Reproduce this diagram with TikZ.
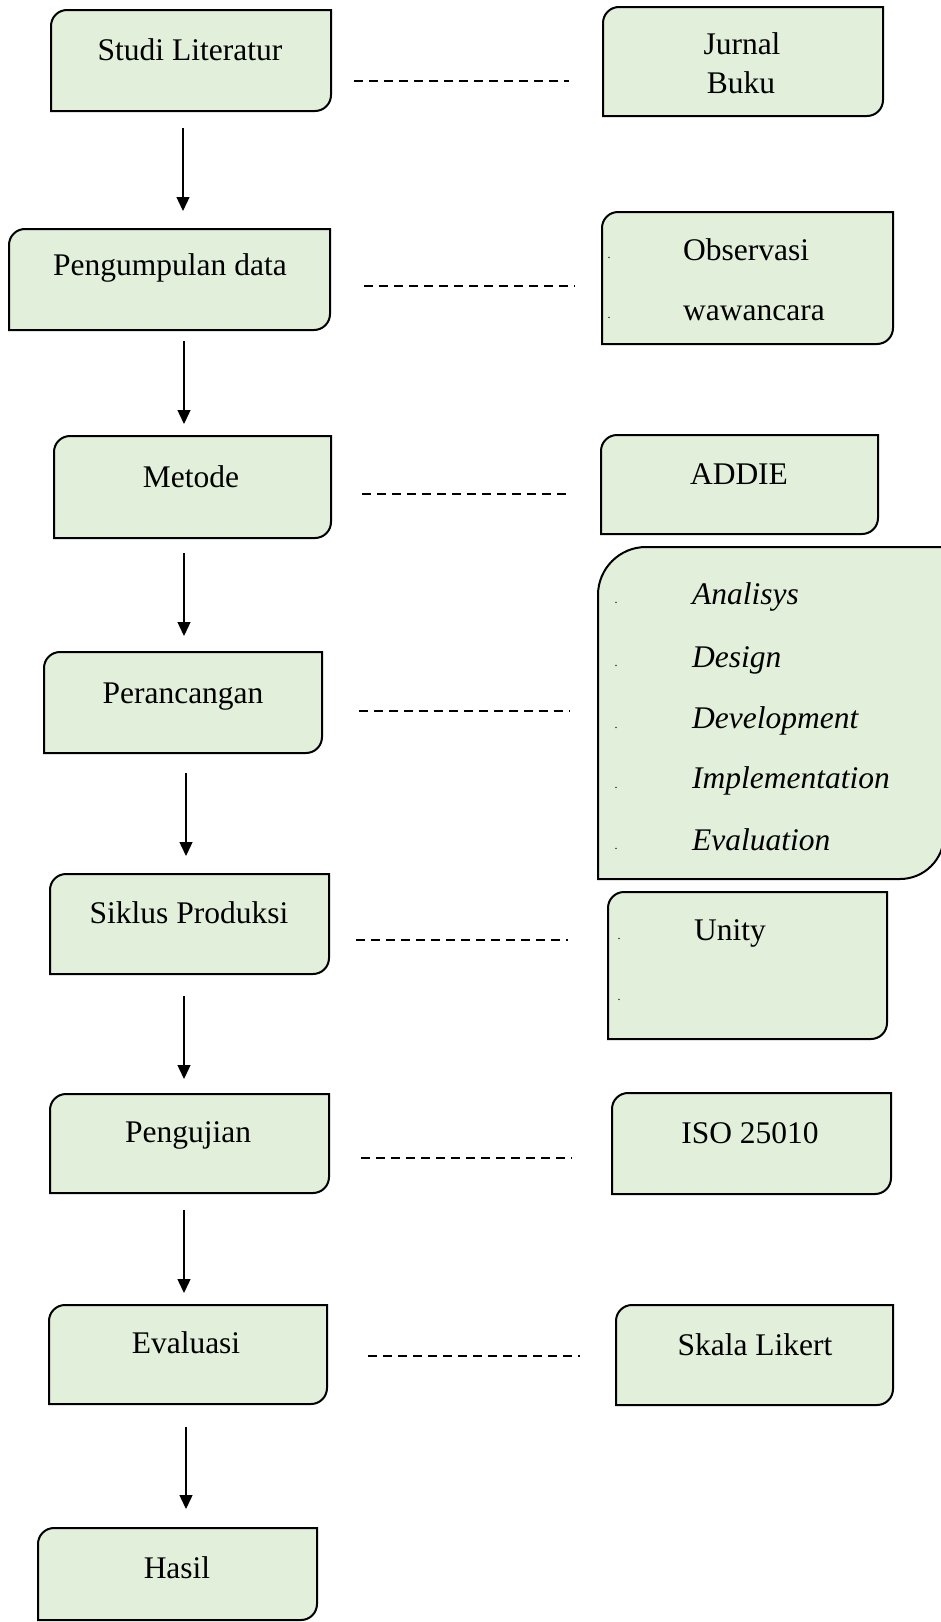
\documentclass[tikz,border=0pt]{standalone}
\usepackage{fontspec}
\setmainfont{Liberation Serif}
\usetikzlibrary{arrows.meta}
\definecolor{panelgreen}{HTML}{E2EFDA}
\tikzset{
  panelline/.style={draw=black, line width=2pt, fill=panelgreen},
  frame/.style={inner sep=0pt, outer sep=0pt, draw=none},
  lbl/.style={inner sep=0pt, anchor=base, font=\fontsize{31.5}{38}\selectfont},
  lblw/.style={lbl, anchor=base west},
  ilbl/.style={lblw, font=\fontsize{31.5}{38}\selectfont\itshape},
  tick/.style={inner sep=0pt, anchor=base, font=\fontsize{12}{14}\selectfont},
  flow/.style={line width=1.4pt, -{Triangle[width=13pt,length=14pt]}},
  link/.style={line width=1.5pt, dash pattern=on 9pt off 6pt},
}
% #1 name, #2 x1, #3 y1, #4 x2, #5 y2, #6 top-left radius, #7 bottom-right radius
\newcommand{\panel}[7]{%
  \node[frame, minimum width={#4pt-#2pt}, minimum height={#5pt-#3pt}] (#1) at ({(#2+#4)/2},{(#3+#5)/2}) {};
  \draw[panelline] (#1.south west) -- ([yshift=-#6pt]#1.north west)
    arc[start angle=180, end angle=90, radius=#6pt] -- (#1.north east)
    -- ([yshift=#7pt]#1.south east)
    arc[start angle=0, end angle=-90, radius=#7pt] -- cycle;
}
\begin{document}
\begin{tikzpicture}[x=1pt, y=-1pt]
\useasboundingbox (0,0) rectangle (941,1622);
\fill[white] (0,0) rectangle (941,1622);

% main column
\panel{s1}{51}{10}{331}{111}{16}{16}
\panel{s2}{9}{229}{330}{330}{16}{16}
\panel{s3}{54}{436}{331}{538}{16}{16}
\panel{s4}{44}{652}{322}{753}{16}{16}
\panel{s5}{50}{874}{329}{974}{16}{16}
\panel{s6}{50}{1094}{329}{1193}{16}{16}
\panel{s7}{49}{1305}{327}{1404}{16}{16}
\panel{s8}{38}{1528}{317}{1620}{16}{16}

% detail column
\panel{d1}{603}{7}{883}{116}{16}{16}
\panel{d2}{602}{212}{893}{344}{16}{16}
\panel{d3}{601}{435}{878}{534}{16}{16}
\panel{d4}{598}{547}{944}{879}{48}{44}
\panel{d5}{608}{892}{887}{1039}{16}{16}
\panel{d6}{612}{1093}{891}{1194}{16}{16}
\panel{d7}{616}{1305}{893}{1405}{16}{16}

% step labels
\node[lbl] (t1) at (190,60) {Studi Literatur};
\node[lbl] (t2) at (170,275) {Pengumpulan data};
\node[lbl] (t3) at (191,487) {Metode};
\node[lbl] (t4) at (183,703) {Perancangan};
\node[lbl] (t5) at (189,923) {Siklus Produksi};
\node[lbl] (t6) at (188,1142) {Pengujian};
\node[lbl] (t7) at (186,1353) {Evaluasi};
\node[lbl] (t8) at (177,1578) {Hasil};

% detail labels
\node[lbl] (u1a) at (742,54) {Jurnal};
\node[lbl] (u1b) at (741,93) {Buku};
\node[tick] (k2a) at (609,258) {.};
\node[tick] (k2b) at (609,318) {.};
\node[lblw] (u2a) at (683,260) {Observasi};
\node[lblw] (u2b) at (683,320) {wawancara};
\node[lbl] (u3) at (739,484) {ADDIE};
\node[tick] (k4a) at (616,603) {.};
\node[tick] (k4b) at (616,666) {.};
\node[tick] (k4c) at (616,728) {.};
\node[tick] (k4d) at (616,788) {.};
\node[tick] (k4e) at (616,849) {.};
\node[ilbl] (u4a) at (692,604) {Analisys};
\node[ilbl] (u4b) at (692,667) {Design};
\node[ilbl] (u4c) at (692,728) {Development};
\node[ilbl] (u4d) at (692,788) {Implementation};
\node[ilbl] (u4e) at (692,850) {Evaluation};
\node[tick] (k5a) at (619,939) {.};
\node[tick] (k5b) at (619,1000) {.};
\node[lbl] (u5) at (730,940) {Unity};
\node[lbl] (u6) at (750,1143) {ISO 25010};
\node[lbl] (u7) at (755,1355) {Skala Likert};

% flow arrows between steps
\coordinate (f1a) at (183,128);  \coordinate (f1b) at (183,211);
\coordinate (f2a) at (184,341);  \coordinate (f2b) at (184,424);
\coordinate (f3a) at (184,553);  \coordinate (f3b) at (184,636);
\coordinate (f4a) at (186,773);  \coordinate (f4b) at (186,856);
\coordinate (f5a) at (184,996);  \coordinate (f5b) at (184,1079);
\coordinate (f6a) at (184,1210); \coordinate (f6b) at (184,1293);
\coordinate (f7a) at (186,1427); \coordinate (f7b) at (186,1509);
\foreach \i in {1,...,7} \draw[flow] (f\i a) -- (f\i b);

% dashed links to details
\coordinate (l1a) at (354,81);   \coordinate (l1b) at (569,81);
\coordinate (l2a) at (364,286);  \coordinate (l2b) at (575,286);
\coordinate (l3a) at (362,494);  \coordinate (l3b) at (571,494);
\coordinate (l4a) at (359,711);  \coordinate (l4b) at (570,711);
\coordinate (l5a) at (356,940);  \coordinate (l5b) at (568,940);
\coordinate (l6a) at (361,1158); \coordinate (l6b) at (572,1158);
\coordinate (l7a) at (368,1356); \coordinate (l7b) at (580,1356);
\foreach \i in {1,...,7} \draw[link] (l\i a) -- (l\i b);
\end{tikzpicture}
\end{document}
